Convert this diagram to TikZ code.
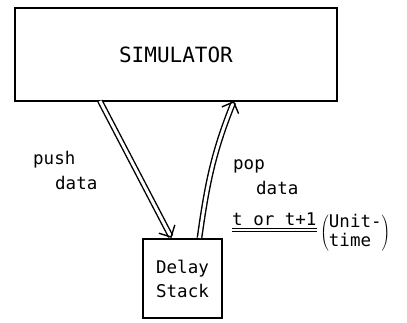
\documentclass[tikz,border=0pt]{standalone}
\usepackage{fontspec}
\setmonofont{DejaVu Sans Mono}
\usetikzlibrary{arrows.meta}
\newcommand{\drawdouble}{\draw[line width=1.4pt, double, double distance=3pt, -{Straight Barb[length=9pt, width=18pt]}]}
\newcommand{\drawthin}{\draw[line width=0.9pt]}
\tikzset{
  thickbox/.style={draw, line width=2.2pt, inner sep=0pt},
  label/.style={font=\ttfamily\fontsize{17.5}{19}\selectfont, inner sep=0pt, anchor=west}
}
\begin{document}
\begin{tikzpicture}[x=1pt, y=-1pt]
\useasboundingbox (0,0) rectangle (407,322);
\node[thickbox, minimum width=322pt, minimum height=93pt, font=\ttfamily\fontsize{21}{23}\selectfont] (sim) at (176,54.5) {SIMULATOR};
\node[thickbox, minimum width=79pt, minimum height=79pt, align=center, font=\ttfamily\fontsize{17.5}{24}\selectfont] (stack) at (182.5,278.5) {Delay\\Stack};
\coordinate (pushout) at (100,101);
\coordinate (popin) at (234,101);
\drawdouble (pushout) -- ([xshift=-11pt]stack.north);
\drawdouble ([xshift=17pt]stack.north) to[out=82, in=-112] (popin);
\node[label] (push) at (33,160) {push};
\node[label] (pushdata) at (55,183) {data};
\node[label] (pop) at (233,166) {pop};
\node[label] (popdata) at (256,188) {data};
\node[label] (tor) at (232,219) {t or t+1};
\drawthin ([yshift=-3pt]tor.south west) -- ([yshift=-3pt]tor.south east);
\drawthin ([yshift=-5.5pt]tor.south west) -- ([yshift=-5.5pt]tor.south east);
\node[label] (unit) at (320,233) {$\left(\vcenter{\hbox{\begin{tabular}{@{}l@{}}\ttfamily Unit-\\\ttfamily time\end{tabular}}}\right)$};
\end{tikzpicture}
\end{document}
